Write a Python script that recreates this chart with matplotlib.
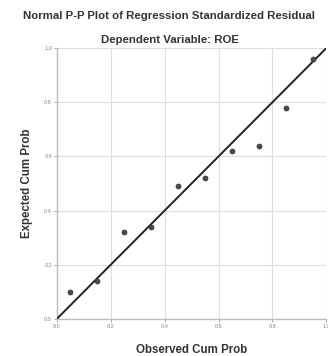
import numpy as np
import matplotlib.pyplot as plt

plt.rcParams['font.family'] = ['Liberation Sans', 'DejaVu Sans']

# observed and expected cumulative probabilities
observed = [0.05, 0.15, 0.25, 0.35, 0.45, 0.55, 0.65, 0.75, 0.85, 0.95]
expected = [0.10, 0.14, 0.32, 0.34, 0.49, 0.52, 0.62, 0.64, 0.78, 0.96]
ticks = [0.0, 0.2, 0.4, 0.6, 0.8, 1.0]
tick_labels = ['0.0', '0.2', '0.4', '0.6', '0.8', '1.0']

fig = plt.figure(figsize=(3.28, 3.56), dpi=100)
ax = fig.add_axes([0.173, 0.104, 0.822, 0.761])

ax.plot([0, 1], [0, 1], color='#222222', lw=1.4, zorder=3)
ax.scatter(observed, expected, s=13, color='#4a4a4a', edgecolors='#333333',
           linewidths=0.5, zorder=4)

ax.set_xlim(0, 1)
ax.set_ylim(0, 1)
ax.set_xticks(ticks)
ax.set_yticks(ticks)
ax.set_xticklabels(tick_labels)
ax.set_yticklabels(tick_labels)
ax.tick_params(labelsize=4, colors='#888888', length=2, width=0.5, pad=1.5)
ax.grid(True, color='#dddddd', lw=0.8)
ax.set_axisbelow(True)
for s in ['top', 'right']:
    ax.spines[s].set_visible(False)
for s in ['left', 'bottom']:
    ax.spines[s].set_color('#bbbbbb')
    ax.spines[s].set_linewidth(1.0)

ax.set_xlabel('Observed Cum Prob', fontsize=8.3, fontweight='bold',
              color='#333333', labelpad=11)
ax.set_ylabel('Expected Cum Prob', fontsize=8.3, fontweight='bold',
              color='#333333', labelpad=8)

fig.text(0.515, 0.955, 'Normal P-P Plot of Regression Standardized Residual',
         ha='center', va='center', fontsize=8.2, fontweight='bold', color='#333333')
fig.text(0.518, 0.888, 'Dependent Variable: ROE',
         ha='center', va='center', fontsize=8.2, fontweight='bold', color='#333333')

fig.savefig('out.png', dpi=100)
